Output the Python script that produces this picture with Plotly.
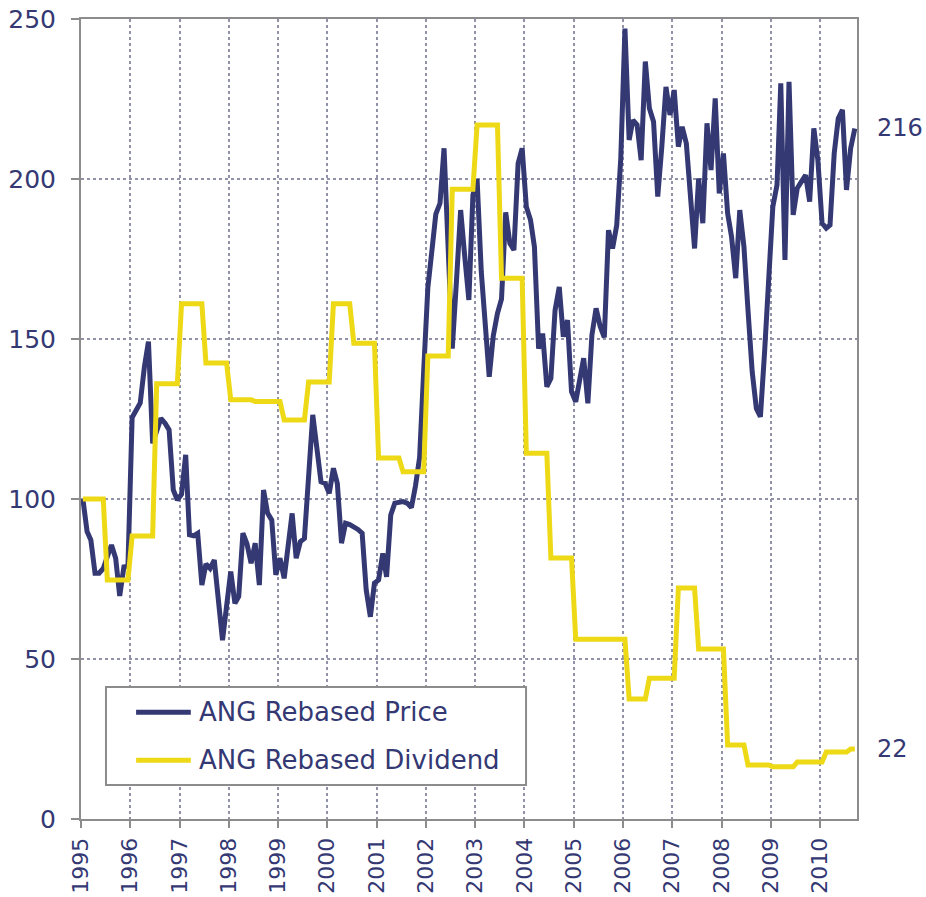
import pandas as pd
import plotly.graph_objects as go

# ---- data (monthly, Jan 1995 - Sep 2010) ----
price = [
    100, 89.8, 87.2, 76.8, 76.8, 78.3, 82, 85.6, 81.5, 69.7, 78.8, 79,
    125.5, 127.8, 130, 141.3, 149.2, 117.4, 121, 125.2, 123.7, 121.6, 102.8, 99.7,
    101.5, 113.8, 88.8, 88.5, 89.3, 73.1, 79.7, 78.3, 80.9, 68, 55.9, 66.5,
    77.3, 67.4, 69.5, 89.3, 86, 79.9, 86.2, 73.1, 102.8, 95.6, 93.4, 76.3,
    81.5, 75.2, 85, 95.5, 81.5, 86.7, 87.7, 107, 126.3, 116, 105.4, 104.9,
    101.8, 109.6, 104.9, 86.2, 92.4, 92, 91.3, 90.5, 89.3, 71.6, 63.2, 73.7,
    74.7, 83, 75.7, 95, 98.7, 99, 99.2, 98.7, 97.3, 104, 113, 140,
    166, 178, 189, 192.4, 209.6, 178, 147, 168, 190.3, 176, 162.2, 195,
    200, 171, 155, 138.2, 151, 158, 162.5, 189.6, 179.9, 177.8, 204.9, 209.6,
    191.3, 187.2, 178.8, 147, 151.7, 135.1, 137.7, 159, 166.3, 150.7, 155.9, 133.5,
    130.4, 137, 144, 129.9, 151.2, 159.6, 154, 150.5, 184, 178.3, 185.6, 206.4,
    247, 212.2, 218.4, 216.9, 205.9, 236.7, 222.1, 217.9, 194.5, 210, 228.8, 220,
    227.8, 210.1, 216.3, 211.1, 195, 178.3, 200.2, 186.2, 217.4, 202.8, 225.2, 195.5,
    208, 189.3, 182, 169, 190.3, 178.8, 159, 139.8, 128.3, 125.7, 146, 169,
    191.3, 198.1, 229.9, 174.7, 230.4, 188.8, 197.1, 199.2, 201.2, 192.9, 215.8, 205.9,
    186.2, 184.6, 185.6, 208, 218.9, 221.6, 196.6, 209.6, 215.8,
]

dividend = [
    100, 100, 100, 100, 100, 100, 74.7, 74.7, 74.7, 74.7, 74.7, 74.7,
    88.4, 88.4, 88.4, 88.4, 88.4, 88.4, 136, 136, 136, 136, 136, 136,
    161, 161, 161, 161, 161, 161, 142.5, 142.5, 142.5, 142.5, 142.5, 142.5,
    131, 131, 131, 131, 131, 131, 130.5, 130.5, 130.5, 130.5, 130.5, 130.5,
    130.5, 124.7, 124.7, 124.7, 124.7, 124.7, 124.7, 136.6, 136.6, 136.6, 136.6, 136.6,
    136.6, 161, 161, 161, 161, 161, 148.7, 148.7, 148.7, 148.7, 148.7, 148.7,
    112.8, 112.8, 112.8, 112.8, 112.8, 112.8, 108.5, 108.5, 108.5, 108.5, 108.5, 108.5,
    144.7, 144.7, 144.7, 144.7, 144.7, 144.7, 196.8, 196.8, 196.8, 196.8, 196.8, 196.8,
    216.9, 216.9, 216.9, 216.9, 216.9, 216.9, 169, 169, 169, 169, 169, 169,
    114.3, 114.3, 114.3, 114.3, 114.3, 114.3, 81.6, 81.6, 81.6, 81.6, 81.6, 81.6,
    56.2, 56.2, 56.2, 56.2, 56.2, 56.2, 56.2, 56.2, 56.2, 56.2, 56.2, 56.2,
    56.2, 37.5, 37.5, 37.5, 37.5, 37.5, 44, 44, 44, 44, 44, 44,
    44, 72.2, 72.2, 72.2, 72.2, 72.2, 53.1, 53.1, 53.1, 53.1, 53.1, 53.1,
    53.1, 23.1, 23.1, 23.1, 23.1, 23.1, 16.9, 16.9, 16.9, 16.9, 16.9, 16.9,
    16.3, 16.3, 16.3, 16.3, 16.3, 16.3, 17.8, 17.8, 17.8, 17.8, 17.8, 17.8,
    17.8, 20.9, 20.9, 20.9, 20.9, 20.9, 20.9, 21.9, 21.9,
]

series_names = ["ANG Rebased Price", "ANG Rebased Dividend"]
dates = pd.date_range("1995-01-01", periods=len(price), freq="MS") + pd.Timedelta(days=14)

NAVY = "#343873"
YELLOW = "#EED917"
GRID = "#9191a8"
FRAME = "#8c8c8c"
FONT = "DejaVu Sans"

fig = go.Figure()
fig.add_trace(go.Scatter(x=dates, y=price, mode="lines", name=series_names[0],
                         line=dict(color=NAVY, width=5), showlegend=False))
fig.add_trace(go.Scatter(x=dates, y=dividend, mode="lines", name=series_names[1],
                         line=dict(color=YELLOW, width=5), showlegend=False))

axis_common = dict(
    showline=True, linecolor=FRAME, linewidth=2, mirror=True,
    showgrid=True, gridcolor=GRID, gridwidth=1.5, griddash="dot",
    ticks="outside", tickcolor=FRAME, tickwidth=2,
    zeroline=False, automargin=False,
)

fig.update_xaxes(
    type="date", range=["1995-01-01", "2010-10-01"],
    tick0="1995-01-01", dtick="M12", tickformat="%Y", tickangle=-90,
    ticklen=7, ticklabelstandoff=1,
    tickfont=dict(family=FONT, size=22, color=NAVY), **axis_common,
)
fig.update_yaxes(range=[0, 250], dtick=50, ticklen=8, ticklabelstandoff=10,
                 tickfont=dict(family=FONT, size=25, color=NAVY), **axis_common)

# end-value labels
for val in (price[-1], dividend[-1]):
    fig.add_annotation(x=1, xref="paper", y=val, yref="y", xanchor="left", yanchor="middle",
                       xshift=18, text=f"{round(val)}", showarrow=False,
                       font=dict(family=FONT, size=24, color=NAVY))

# legend box (drawn manually to match the reference's long legend lines)
fig.add_shape(type="rect", xref="paper", yref="paper", x0=0.0322, x1=0.5735, y0=0.0425, y1=0.165,
              line=dict(color=FRAME, width=2), fillcolor="white", layer="above")
legend_rows = [(series_names[0], NAVY, 0.1335), (series_names[1], YELLOW, 0.0735)]
for name, color, yy in legend_rows:
    fig.add_shape(type="line", xref="paper", yref="paper", x0=0.071, x1=0.1415, y0=yy, y1=yy,
                  line=dict(color=color, width=5), layer="above")
    fig.add_annotation(x=0.149, xref="paper", y=yy, yref="paper", xanchor="left", yanchor="middle",
                       text=name, showarrow=False, font=dict(family=FONT, size=26, color=NAVY))

fig.update_layout(
    width=926, height=897,
    margin=dict(l=81, r=69, t=19, b=78),
    paper_bgcolor="white", plot_bgcolor="white",
    font=dict(family=FONT, color=NAVY),
)

fig.write_html(
    "out.html",
    config={"displayModeBar": False},
    post_script="document.body.style.margin='0';document.body.style.overflow='hidden';",
)
